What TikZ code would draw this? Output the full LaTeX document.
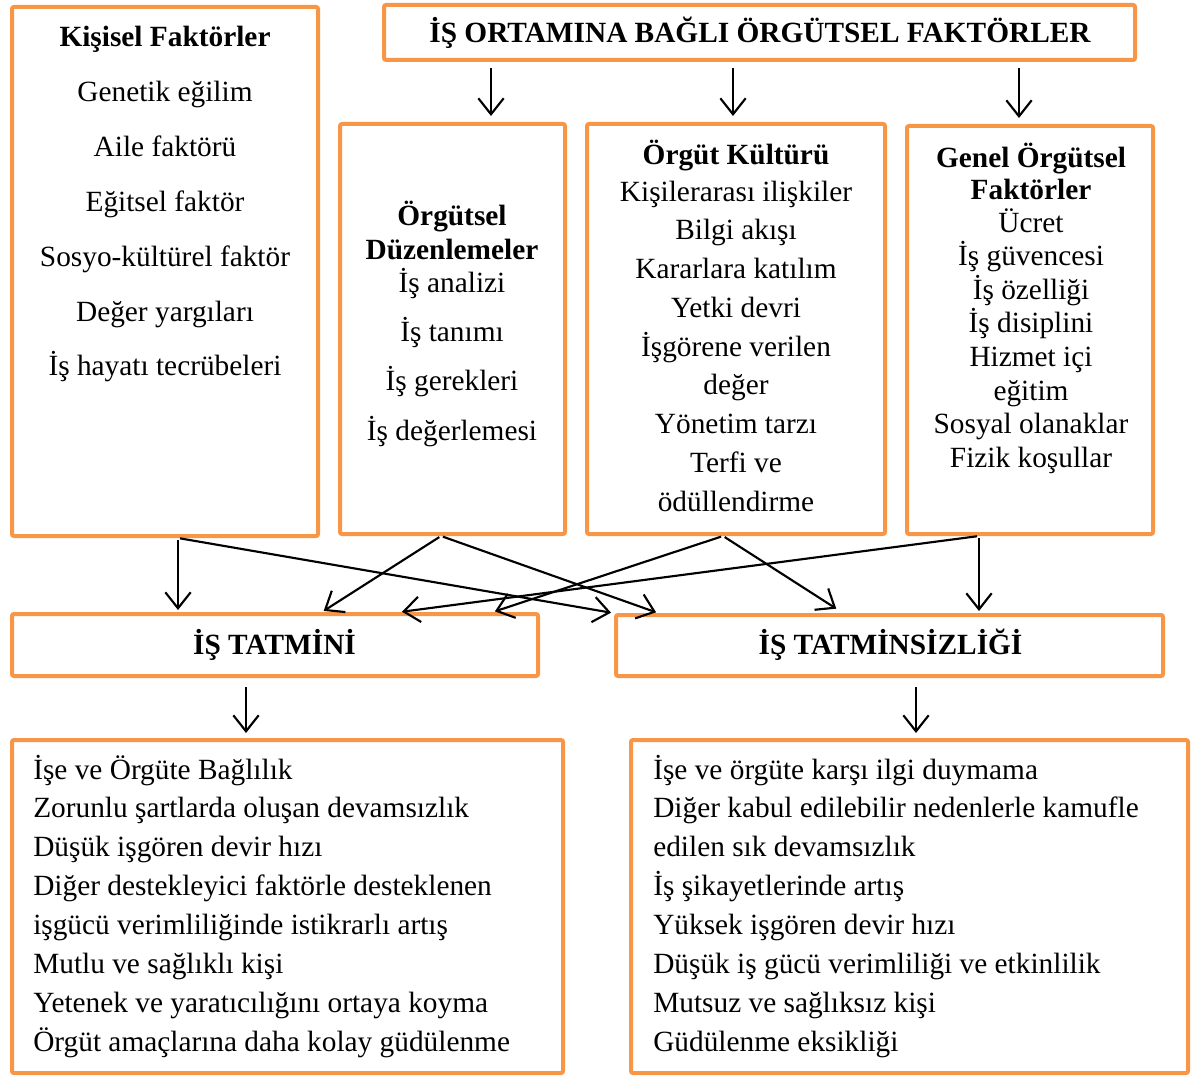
\documentclass[tikz,border=0pt]{standalone}
\usepackage{fontspec}
\setmainfont{Liberation Serif}
\usetikzlibrary{arrows.meta}
\definecolor{myorange}{HTML}{F79646}
\tikzstyle{box}=[draw=myorange,line width=3pt,rounded corners=1.5pt,inner sep=0pt]
\tikzstyle{txt}=[anchor=base,inner sep=0pt,yshift=-1.5pt,font=\fontsize{22}{26}\selectfont]
\tikzstyle{head}=[txt,font=\fontsize{22}{26}\selectfont\bfseries]
\tikzstyle{item}=[txt,anchor=base west]
\tikzstyle{arr}=[draw,line width=1.6pt,-{Straight Barb[length=12pt,width=19pt]}]

\begin{document}
\begin{tikzpicture}[x=0.75pt,y=-0.75pt]
    \useasboundingbox (0,0) rectangle (1201,1077);
    % kutular
    \node[box,minimum width=229.5pt,minimum height=396.75pt] (kisisel) at (165,271.5) {};
    \node[box,minimum width=563.25pt,minimum height=41.25pt] (ortam) at (759.5,32.5) {};
    \node[box,minimum width=168.75pt,minimum height=307.5pt] (duzen) at (452.5,329) {};
    \node[box,minimum width=223.5pt,minimum height=307.5pt] (kultur) at (736,329) {};
    \node[box,minimum width=184.5pt,minimum height=306pt] (genel) at (1030,330) {};
    \node[box,minimum width=394.5pt,minimum height=46.5pt] (tatmin) at (275,645) {};
    \node[box,minimum width=410.25pt,minimum height=45.75pt] (tatminsiz) at (889.5,645.5) {};
    \node[box,minimum width=413.25pt,minimum height=249.75pt] (sonuc1) at (287.5,906.5) {};
    \node[box,minimum width=417.75pt,minimum height=249.75pt] (sonuc2) at (909.5,906.5) {};

    % metinler
    \node[head] (kbas) at (165,45) {Kişisel Faktörler};
    \foreach \t [count=\i] in {Genetik eğilim, Aile faktörü, Eğitsel faktör,
                               Sosyo-kültürel faktör, Değer yargıları, İş hayatı tecrübeleri}
        \node[txt] (k\i) at (165,45+54.8*\i) {\t};

    \node[head] (obas) at (760,41) {İŞ ORTAMINA BAĞLI ÖRGÜTSEL FAKTÖRLER};

    \node[head] (dbas1) at (452,223) {Örgütsel};
    \node[head] (dbas2) at (452,257) {Düzenlemeler};
    \foreach \t [count=\i] in {İş analizi, İş tanımı, İş gerekleri, İş değerlemesi}
        \node[txt] (d\i) at (452,240.6+49.4*\i) {\t};

    \node[head] (kkbas) at (736,162) {Örgüt Kültürü};
    \foreach \t [count=\i] in {Kişilerarası ilişkiler, Bilgi akışı, Kararlara katılım,
                               Yetki devri, İşgörene verilen, değer, Yönetim tarzı,
                               Terfi ve, ödüllendirme}
        \node[txt] (kk\i) at (736,160.25+38.75*\i) {\t};

    \node[head] (gbas1) at (1031,165) {Genel Örgütsel};
    \node[head] (gbas2) at (1031,197) {Faktörler};
    \foreach \t [count=\i] in {Ücret, İş güvencesi, İş özelliği, İş disiplini,
                               Hizmet içi, eğitim, Sosyal olanaklar, Fizik koşullar}
        \node[txt] (g\i) at (1031,196.4+33.6*\i) {\t};

    \node[head] (tbas) at (274.5,652) {İŞ TATMİNİ};
    \node[head] (tsbas) at (890.5,652) {İŞ TATMİNSİZLİĞİ};

    \foreach \t [count=\i] in {İşe ve Örgüte Bağlılık,
                               Zorunlu şartlarda oluşan devamsızlık,
                               Düşük işgören devir hızı,
                               Diğer destekleyici faktörle desteklenen,
                               işgücü verimliliğinde istikrarlı artış,
                               Mutlu ve sağlıklı kişi,
                               Yetenek ve yaratıcılığını ortaya koyma,
                               Örgüt amaçlarına daha kolay güdülenme}
        \node[item] (s\i) at (33,738.1+38.9*\i) {\t};
    \foreach \t [count=\i] in {İşe ve örgüte karşı ilgi duymama,
                               Diğer kabul edilebilir nedenlerle kamufle,
                               edilen sık devamsızlık,
                               İş şikayetlerinde artış,
                               Yüksek işgören devir hızı,
                               Düşük iş gücü verimliliği ve etkinlilik,
                               Mutsuz ve sağlıksız kişi,
                               Güdülenme eksikliği}
        \node[item] (ss\i) at (653,738.1+38.9*\i) {\t};

    % oklar
    \foreach \x/\hedef in {491/duzen, 733/kultur, 1019/genel}
        \draw[arr,shorten <=4.5pt,shorten >=4.5pt] (\x,0 |- ortam.south) -- (\x,0 |- \hedef.north);

    \foreach \kaynak/\xa/\hedef/\xb in {kisisel/178/tatmin/178, kisisel/178/tatminsiz/613,
                                        duzen/441/tatmin/322, duzen/441/tatminsiz/658,
                                        kultur/723/tatmin/493,
                                        genel/979/tatmin/400, genel/979/tatminsiz/979}
        \draw[arr,shorten <=1.5pt,shorten >=1.5pt] (\xa,0 |- \kaynak.south) -- (\xb,0 |- \hedef.north);
    \draw[arr,shorten <=1.5pt,shorten >=6pt] (723,0 |- kultur.south) -- (843,0 |- tatminsiz.north);

    \draw[arr,shorten <=6.75pt,shorten >=3.75pt] (246,0 |- tatmin.south) -- (246,0 |- sonuc1.north);
    \draw[arr,shorten <=6.75pt,shorten >=3.75pt] (916,0 |- tatminsiz.south) -- (916,0 |- sonuc2.north);
\end{tikzpicture}
\end{document}
